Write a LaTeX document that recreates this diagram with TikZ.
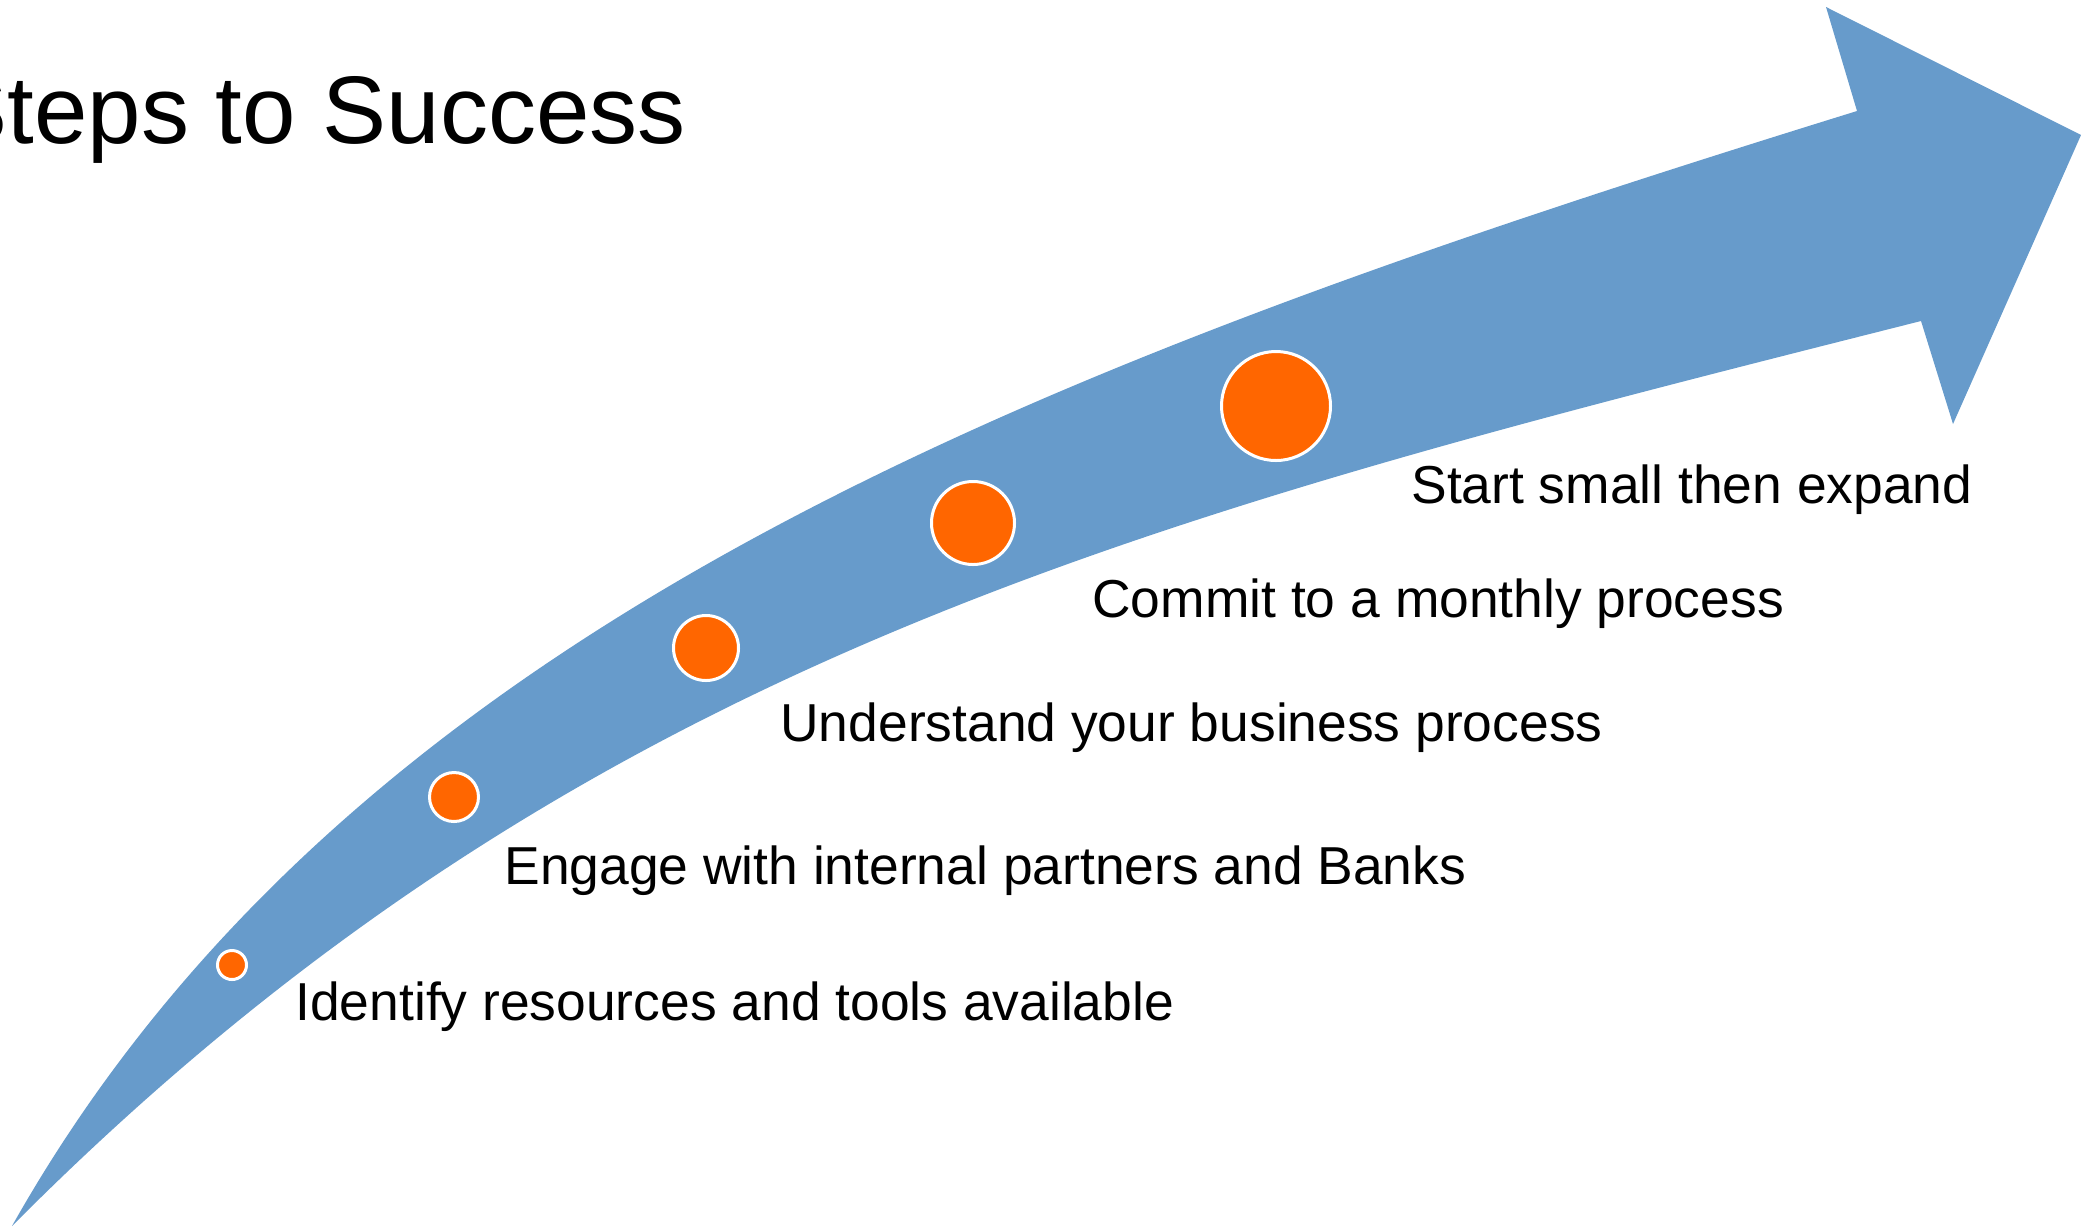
\documentclass[tikz,border=0pt]{standalone}
\usepackage{fontspec}
\setmainfont{Liberation Sans}

\definecolor{arrowblue}{RGB}{103,155,203}
\definecolor{dotorange}{RGB}{255,102,0}

\begin{document}
\begin{tikzpicture}[x=0.5pt, y=-0.5pt,
    stepdot/.style={circle, fill=dotorange, draw=white, line width=1.5pt, inner sep=0pt},
    steptext/.style={anchor=base west, inner sep=0pt, font=\fontsize{26.7}{30}\selectfont}]

    \useasboundingbox (0,0) rectangle (2081,1228);

    \fill[arrowblue] (12,1226) .. controls (576,659) and (1145,517) .. (1921,321)
        -- (1953,424) -- (2081,135) -- (1826,7) -- (1857,111)
        .. controls (1057,359) and (355,617) .. (12,1226) -- cycle;

    \node (title) at (686,143) [anchor=base east, inner sep=0pt, font=\fontsize{48}{56}\selectfont] {Steps to Success};

    \node (d1) at (232,965) [stepdot, minimum size=14.5pt] {};
    \node (d2) at (454,797) [stepdot, minimum size=24.5pt] {};
    \node (d3) at (706,648) [stepdot, minimum size=32.5pt] {};
    \node (d4) at (973,523) [stepdot, minimum size=41.5pt] {};
    \node (d5) at (1276,406) [stepdot, minimum size=54.5pt] {};

    \node (t1) at (295,1020) [steptext] {Identify resources and tools available};
    \node (t2) at (504,884) [steptext] {Engage with internal partners and Banks};
    \node (t3) at (780,741) [steptext] {Understand your business process};
    \node (t4) at (1092,617) [steptext] {Commit to a monthly process};
    \node (t5) at (1411,503) [steptext] {Start small then expand};

\end{tikzpicture}
\end{document}
